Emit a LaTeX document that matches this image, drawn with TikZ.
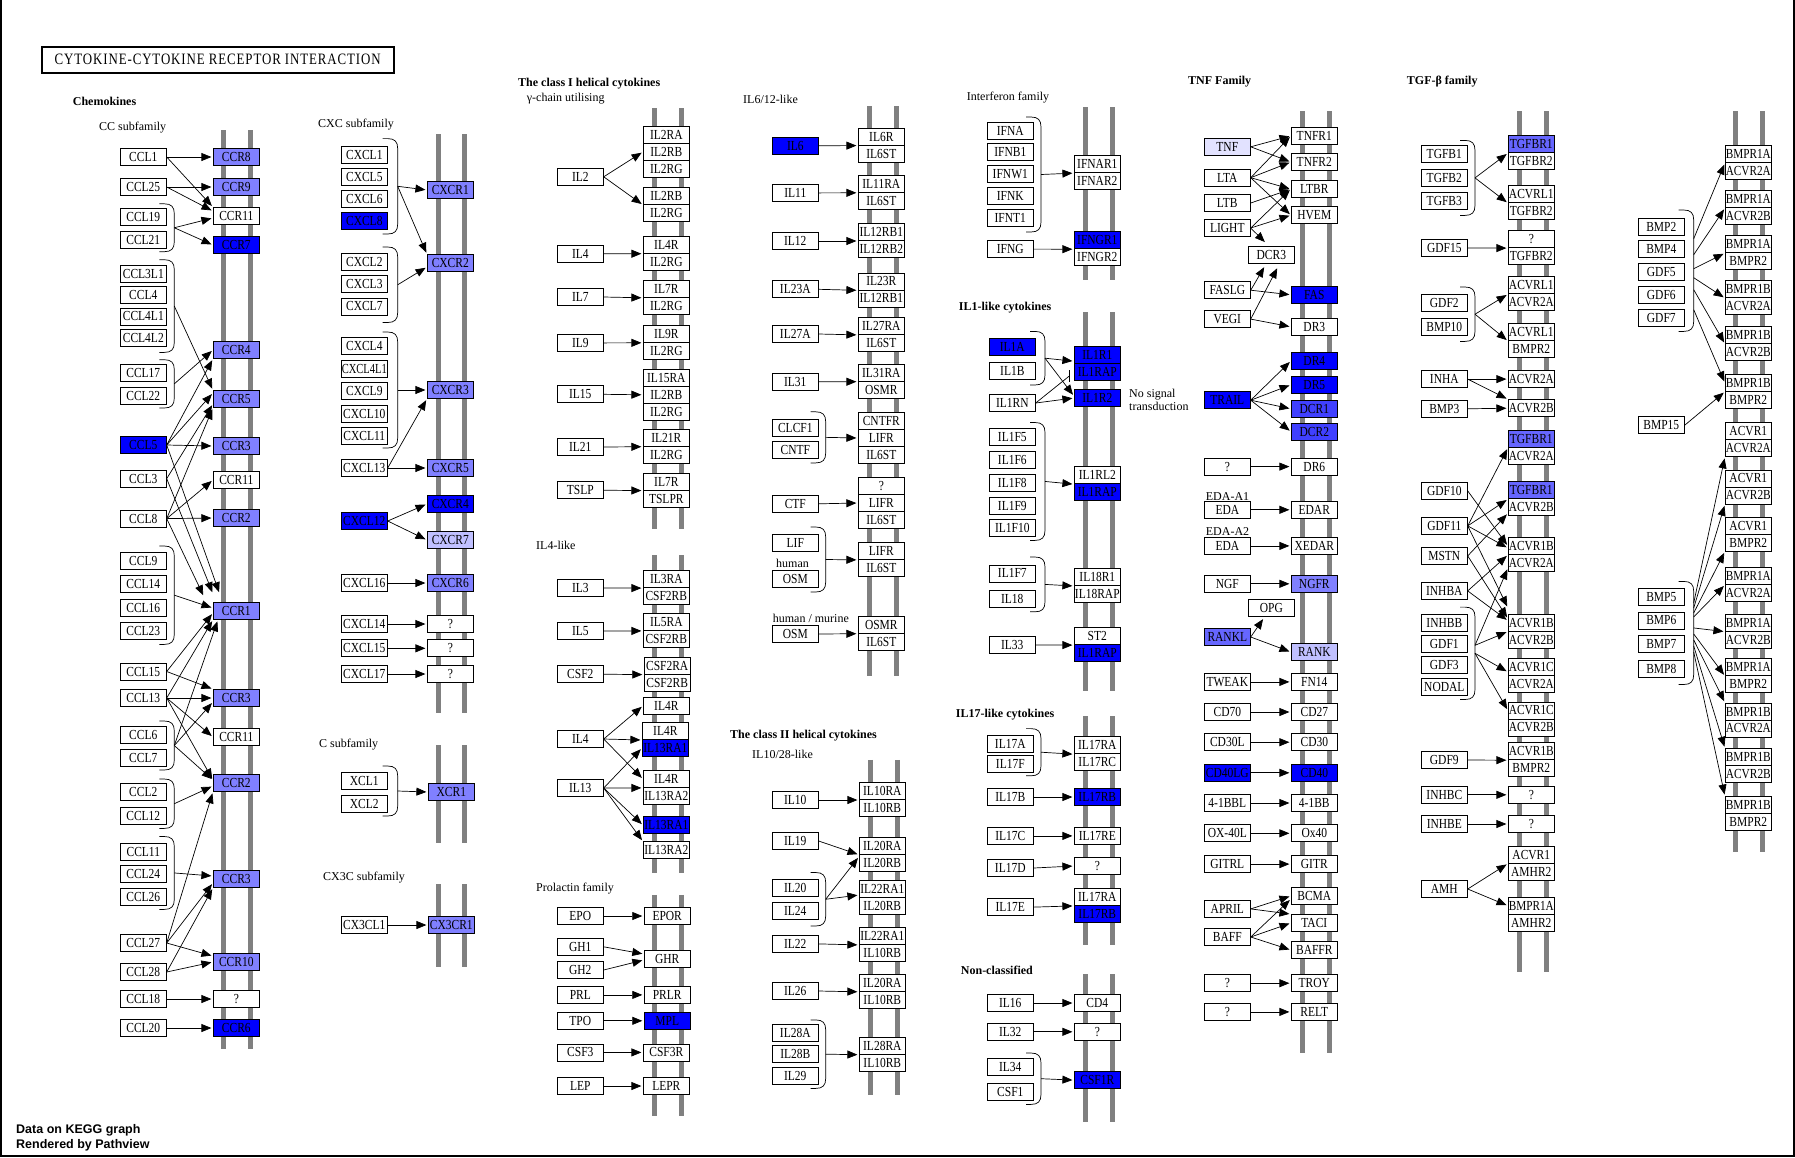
\documentclass[tikz,border=0pt]{standalone}
\usepackage{fontspec}
\usepackage{graphicx}
\setmainfont{Liberation Serif}
\newfontfamily\sansb{Liberation Sans}
\newfontfamily\titlef[LetterSpace=7]{Liberation Serif}
\usetikzlibrary{arrows.meta}
\definecolor{kb}{RGB}{0,0,255}
\definecolor{km}{RGB}{128,128,255}
\definecolor{kl}{RGB}{192,192,255}
\definecolor{kv}{RGB}{226,226,255}
\definecolor{kd}{RGB}{64,64,255}
\definecolor{k6}{RGB}{102,102,255}
\newsavebox\fitbox
\newcommand\fitw[1]{\sbox\fitbox{#1}\ifdim\wd\fitbox>45pt\resizebox{45pt}{1.2\ht\fitbox}{\usebox\fitbox}\else\scalebox{1}[1.2]{\usebox\fitbox}\fi}
\tikzset{
 gb/.style={draw, line width=0.8pt, fill=white, minimum width=46pt, minimum height=17pt, inner sep=0pt, font=\fontsize{11.5}{12}\selectfont},
 hi/.style={fill=kb}, md/.style={fill=km}, lt/.style={fill=kl}, vl/.style={fill=kv}, dk/.style={fill=kd}, m6/.style={fill=k6},
 lab/.style={anchor=west, inner sep=0pt, font=\fontsize{12}{14}\selectfont},
 hd/.style={lab, font=\fontsize{12}{14}\selectfont\bfseries},
 arr/.style={line width=0.7pt, -{Triangle[length=10pt,width=8pt]}, shorten >=1.5pt},
 ln/.style={line width=0.7pt},
 memline/.style={line width=5pt, color=gray}
}
\newcommand\gn[4][]{\node[gb,#1] (#2) at (#3) {\fitw{#4}};}
\newcommand\ed[2]{\draw[arr] (#1) -- (#2);}
\newcommand\memb[4]{\draw[memline] (#1,#3) -- (#1,#4); \draw[memline] (#2,#3) -- (#2,#4);}
\newcommand\brkt[4]{\draw[ln] (#2,#3) -- (#2+5,#3) .. controls (#2+12,#3) and (#2+15,#3+3) .. (#2+15,#3+10) -- (#2+15,#4-10) .. controls (#2+15,#4-3) and (#2+12,#4) .. (#2+5,#4) -- (#2,#4);
 \coordinate (#1) at (#2+15,{(#3+#4)/2});}
\begin{document}
\begin{tikzpicture}[x=1pt,y=-1pt]
\useasboundingbox (0,0) rectangle (1795,1157);
\draw[line width=2pt] (1,0) -- (1,1156) -- (1794,1156) -- (1794,0);
% membranes
\memb{223}{250}{130}{1049}
\memb{438}{464.7}{134}{713}
\memb{438}{464.7}{745}{842.6}
\memb{438}{464.7}{884}{966.6}
\memb{654}{681}{108}{528.6}
\memb{654}{681}{555}{872.8}
\memb{654}{681}{894.8}{1116}
\memb{869}{896}{106.4}{675.7}
\memb{870}{897}{759.9}{1094.5}
\memb{1085}{1112}{107}{280.4}
\memb{1085}{1112}{312}{690.6}
\memb{1085}{1112}{716}{944.6}
\memb{1085}{1112}{974}{1122}
\memb{1302}{1329}{111}{1053}
\memb{1519}{1546}{111}{972.3}
\memb{1735.7}{1762.7}{111}{852}
% title
\node[draw, line width=2pt, minimum width=352pt, minimum height=26pt, anchor=north west, inner sep=0pt] (title) at (40.7,45.6) {\resizebox{326pt}{10.5pt}{\titlef\fontsize{12}{14}\selectfont CYTOKINE-CYTOKINE RECEPTOR INTERACTION}};
% labels
\node[hd] (hChemo) at (72.7,101.6) {Chemokines};
\node[lab] (hCC) at (99,128) {CC subfamily};
\node[lab] (hCXC) at (318,125) {CXC subfamily};
\node[lab] (hC) at (319,745) {C subfamily};
\node[lab] (hCX3C) at (323,878) {CX3C subfamily};
\node[hd] (hCl1) at (518,83.6) {The class I helical cytokines};
\node[lab] (hgam) at (526.7,98.6) {γ-chain utilising};
\node[lab] (hIL4) at (536,545.7) {IL4-like};
\node[lab] (hPRL) at (536,888.5) {Prolactin family};
\node[lab] (hIL6) at (743,99.3) {IL6/12-like};
\node[lab] (hhum) at (776,563) {human};
\node[lab] (hhm) at (772.7,618.5) {human / murine};
\node[hd] (hCl2) at (730,735.7) {The class II helical cytokines};
\node[lab] (hIL10) at (752,754.5) {IL10/28-like};
\node[lab] (hIFN) at (966.7,97.5) {Interferon family};
\node[hd] (hIL1) at (958.7,307.9) {IL1-like cytokines};
\node[lab] (hNS1) at (1129,395) {No signal};
\node[lab] (hNS2) at (1129,406) {transduction};
\node[hd] (hIL17) at (955.7,714.7) {IL17-like cytokines};
\node[hd] (hNC) at (960.7,970.5) {Non-classified};
\node[hd] (hTNF) at (1188,81.4) {TNF Family};
\node[lab] (hEDA1) at (1205.7,496.4) {EDA-A1};
\node[lab] (hEDA2) at (1205.7,532) {EDA-A2};
\node[hd] (hTGF) at (1406.7,81.4) {TGF-β family};
\node[anchor=west, inner sep=0pt, font=\sansb\bfseries\fontsize{12.5}{14}\selectfont] (d1) at (16,1130) {Data on KEGG graph};
\node[anchor=west, inner sep=0pt, font=\sansb\bfseries\fontsize{12.5}{14}\selectfont] (d2) at (16,1145) {Rendered by Pathview};
% ===== CC subfamily
\gn{ccl1}{143.3,157}{CCL1}
\gn{ccl25}{143.3,187}{CCL25}
\gn{ccl19}{143.3,217}{CCL19}
\gn{ccl21}{143.3,240}{CCL21}
\gn{ccl3l1}{143.3,273.5}{CCL3L1}
\gn{ccl4}{143.3,294.6}{CCL4}
\gn{ccl4l1}{143.3,316.4}{CCL4L1}
\gn{ccl4l2}{143.3,338}{CCL4L2}
\gn{ccl17}{143.3,373}{CCL17}
\gn{ccl22}{143.3,396}{CCL22}
\gn[hi]{ccl5}{143.3,445}{CCL5}
\gn{ccl3}{143.3,478.6}{CCL3}
\gn{ccl8}{143.3,518.6}{CCL8}
\gn{ccl9}{143.3,561}{CCL9}
\gn{ccl14}{143.3,583.6}{CCL14}
\gn{ccl16}{143.3,607.8}{CCL16}
\gn{ccl23}{143.3,630.6}{CCL23}
\gn{ccl15}{143.3,671.5}{CCL15}
\gn{ccl13}{143.3,698}{CCL13}
\gn{ccl6}{143.3,735}{CCL6}
\gn{ccl7}{143.3,758}{CCL7}
\gn{ccl2}{143.3,792}{CCL2}
\gn{ccl12}{143.3,815.5}{CCL12}
\gn{ccl11}{143.3,852}{CCL11}
\gn{ccl24}{143.3,874}{CCL24}
\gn{ccl26}{143.3,896.5}{CCL26}
\gn{ccl27}{143.3,943}{CCL27}
\gn{ccl28}{143.3,972}{CCL28}
\gn{ccl18}{143.3,999}{CCL18}
\gn{ccl20}{143.3,1028}{CCL20}
\gn[md]{ccr8}{236.3,157}{CCR8}
\gn[md]{ccr9}{236.3,187}{CCR9}
\gn{ccr11a}{236.3,216}{CCR11}
\gn[hi]{ccr7}{236.3,245}{CCR7}
\gn[md]{ccr4}{236.3,350}{CCR4}
\gn[md]{ccr5}{236.3,399}{CCR5}
\gn[md]{ccr3a}{236.3,446}{CCR3}
\gn{ccr11b}{236.3,480}{CCR11}
\gn[md]{ccr2a}{236.3,518}{CCR2}
\gn[md]{ccr1}{236.3,611}{CCR1}
\gn[md]{ccr3b}{236.3,698}{CCR3}
\gn{ccr11c}{236.3,737}{CCR11}
\gn[md]{ccr2b}{236.3,783}{CCR2}
\gn[md]{ccr3c}{236.3,879}{CCR3}
\gn[md]{ccr10}{236.3,962}{CCR10}
\gn{ccq}{236.3,999}{?}
\gn[hi]{ccr6}{236.3,1028}{CCR6}
\brkt{bk1}{159.3}{203.8}{251.7}
\brkt{bk2}{159.3}{259.7}{352.4}
\brkt{bk3}{159.3}{359.7}{408}
\brkt{bk4}{159.3}{546}{644.4}
\brkt{bk5}{159.3}{721}{770}
\brkt{bk6}{159.3}{779}{828.4}
\brkt{bk7}{159.3}{836.5}{909.4}
\ed{ccl1.east}{ccr8.west}
\ed{ccl1.east}{ccr11a.north west}
\ed{ccl25.east}{ccr9.west}
\ed{ccl25.east}{[yshift=-4pt]ccr11a.north west}
\ed{bk1}{[yshift=-2pt]ccr11a.west}
\ed{bk1}{ccr7.west}
\ed{bk2}{ccr5.north west}
\ed{bk3}{ccr4.west}
\ed{ccl5.east}{ccr4.south west}
\ed{ccl5.east}{[yshift=6pt]ccr5.west}
\ed{ccl5.east}{ccr3a.west}
\ed{ccl5.east}{[xshift=6.7pt,yshift=8.5pt]ccr1.north west}
\ed{ccl3.east}{[yshift=-5pt]ccr5.west}
\ed{ccl3.east}{[yshift=8.5pt]ccr1.north west}
\ed{ccl8.east}{ccr5.south west}
\ed{ccl8.east}{ccr11b.west}
\ed{ccl8.east}{ccr2a.west}
\ed{ccl8.east}{[xshift=-9pt,yshift=5.5pt]ccr1.north west}
\ed{bk4}{[yshift=3pt]ccr1.west}
\ed{ccl15.east}{[yshift=-2pt]ccr1.west}
\ed{ccl15.east}{ccr3b.north west}
\ed{ccl13.east}{ccr1.south west}
\ed{ccl13.east}{ccr3b.west}
\ed{ccl13.east}{ccr11c.west}
\ed{ccl13.east}{[yshift=3pt]ccr2b.west}
\ed{bk5}{[xshift=5pt]ccr1.south west}
\ed{bk5}{[yshift=-4pt]ccr3b.west}
\ed{bk5}{[yshift=3pt]ccr2b.west}
\ed{bk6}{[yshift=-3pt]ccr2b.west}
\ed{ccl27.east}{ccr2b.south west}
\ed{bk7}{[yshift=3pt]ccr3c.west}
\ed{ccl27.east}{[yshift=-4pt]ccr3c.west}
\ed{ccl28.east}{ccr3c.south west}
\ed{ccl27.east}{[yshift=6pt]ccr10.west}
\ed{ccl28.east}{ccr10.west}
\ed{ccl18.east}{ccq.west}
\ed{ccl20.east}{ccr6.west}
% ===== CXC
\gn{cxcl1}{364.3,155.2}{CXCL1}
\gn{cxcl5}{364.3,177}{CXCL5}
\gn{cxcl6}{364.3,199}{CXCL6}
\gn[hi]{cxcl8}{364.3,220.7}{CXCL8}
\gn{cxcl2}{364.3,262}{CXCL2}
\gn{cxcl3}{364.3,284}{CXCL3}
\gn{cxcl7}{364.3,306.4}{CXCL7}
\gn{cxcl4}{364.3,346}{CXCL4}
\gn{cxcl4l1}{364.3,369}{CXCL4L1}
\gn{cxcl9}{364.3,391}{CXCL9}
\gn{cxcl10}{364.3,414}{CXCL10}
\gn{cxcl11}{364.3,436}{CXCL11}
\gn{cxcl13}{364.3,468}{CXCL13}
\gn[hi]{cxcl12}{364.3,521}{CXCL12}
\gn{cxcl16}{364.3,583}{CXCL16}
\gn{cxcl14}{364.3,624}{CXCL14}
\gn{cxcl15}{364.3,648.3}{CXCL15}
\gn{cxcl17}{364.3,674}{CXCL17}
\gn[md]{cxcr1}{450.3,190}{CXCR1}
\gn[md]{cxcr2}{450.3,263}{CXCR2}
\gn[md]{cxcr3}{450.3,390}{CXCR3}
\gn[md]{cxcr5}{450.3,468}{CXCR5}
\gn[hi]{cxcr4}{450.3,504}{CXCR4}
\gn[lt]{cxcr7}{450.3,540}{CXCR7}
\gn[md]{cxcr6}{450.3,583}{CXCR6}
\gn{cxq1}{450.3,624}{?}
\gn{cxq2}{450.3,648.3}{?}
\gn{cxq3}{450.3,674}{?}
\brkt{bkx1}{382.7}{138.6}{234}
\brkt{bkx2}{382.7}{247}{322.5}
\brkt{bkx3}{382.7}{332}{448}
\gn{xcl1}{364.3,781}{XCL1}
\gn{xcl2}{364.3,804}{XCL2}
\brkt{bkxc}{382.7}{766}{816}
\gn[md]{xcr1}{451.3,792}{XCR1}
\gn{cx3cl1}{364.3,925}{CX3CL1}
\gn[md]{cx3cr1}{451.3,925}{CX3CR1}
\ed{bkx1}{cxcr1.west}
\ed{bkx1}{cxcr2.north west}
\ed{bkx2}{[yshift=-4pt]cxcr2.west}
\ed{bkx3}{cxcr3.west}
\ed{cxcl13.east}{cxcr3.south west}
\ed{cxcl13.east}{cxcr5.west}
\ed{cxcl12.east}{cxcr4.west}
\ed{cxcl12.east}{cxcr7.west}
\ed{cxcl16.east}{cxcr6.west}
\ed{cxcl14.east}{cxq1.west}
\ed{cxcl15.east}{cxq2.west}
\ed{cxcl17.east}{cxq3.west}
\ed{bkxc}{xcr1.west}
\ed{cx3cl1.east}{cx3cr1.west}
% ===== class I
\gn{il2}{580.3,176.8}{IL2}
\gn{il4}{580.3,253.8}{IL4}
\gn{il7}{580.3,297}{IL7}
\gn{il9}{580.3,342.9}{IL9}
\gn{il15}{580.3,394.3}{IL15}
\gn{il21}{580.3,447}{IL21}
\gn{tslp}{580.3,490.2}{TSLP}
\gn{il2ra}{666.3,134.9}{IL2RA}
\gn{il2rb1}{666.3,151.9}{IL2RB}
\gn{il2rg1}{666.3,168.9}{IL2RG}
\gn{il2rb2}{666.3,196}{IL2RB}
\gn{il2rg2}{666.3,213}{IL2RG}
\gn{il4r1}{666.3,244.8}{IL4R}
\gn{il2rg3}{666.3,261.8}{IL2RG}
\gn{il7r1}{666.3,288.9}{IL7R}
\gn{il2rg4}{666.3,305.9}{IL2RG}
\gn{il9r}{666.3,333.9}{IL9R}
\gn{il2rg5}{666.3,350.9}{IL2RG}
\gn{il15ra}{666.3,377.8}{IL15RA}
\gn{il2rb3}{666.3,394.8}{IL2RB}
\gn{il2rg6}{666.3,411.8}{IL2RG}
\gn{il21r}{666.3,437.8}{IL21R}
\gn{il2rg7}{666.3,454.8}{IL2RG}
\gn{il7r2}{666.3,481.7}{IL7R}
\gn{tslpr}{666.3,498.7}{TSLPR}
\gn{il3}{580.3,588}{IL3}
\gn{il5}{580.3,631}{IL5}
\gn{csf2}{580.3,674.2}{CSF2}
\gn{il4b}{580.3,739}{IL4}
\gn{il13}{580.3,788}{IL13}
\gn{il3ra}{666.3,579.2}{IL3RA}
\gn{csf2rb1}{666.3,596.2}{CSF2RB}
\gn{il5ra}{666.3,622}{IL5RA}
\gn{csf2rb2}{666.3,639}{CSF2RB}
\gn{csf2ra}{667.2,665.7}{CSF2RA}
\gn{csf2rb3}{667.2,682.7}{CSF2RB}
\gn{il4rs}{666.3,705.8}{IL4R}
\gn{il4r2}{665.3,731.1}{IL4R}
\gn[hi]{il13ra1a}{665.3,748.1}{IL13RA1}
\gn{il4r3}{666.3,779}{IL4R}
\gn{il13ra2a}{666.3,796}{IL13RA2}
\gn[hi]{il13ra1b}{666.3,825.1}{IL13RA1}
\gn{il13ra2b}{666.3,850.3}{IL13RA2}
\gn{epo}{580.3,916}{EPO}
\gn{gh1}{580.3,946.8}{GH1}
\gn{gh2}{580.3,970}{GH2}
\gn{prl}{580.3,994.9}{PRL}
\gn{tpo}{580.3,1020.8}{TPO}
\gn{csf3}{580.3,1052.4}{CSF3}
\gn{lep}{580.3,1086}{LEP}
\gn{epor}{667.2,916}{EPOR}
\gn{ghr}{667.2,959}{GHR}
\gn{prlr}{667.2,994.9}{PRLR}
\gn[hi]{mpl}{667.2,1020.8}{MPL}
\gn{csf3r}{666.3,1052.4}{CSF3R}
\gn{lepr}{666.3,1086}{LEPR}
\ed{il2.east}{il2rb1.west}
\ed{il2.east}{il2rb2.south west}
\ed{il4.east}{il4r1.south west}
\ed{il7.east}{il7r1.south west}
\ed{il9.east}{il9r.south west}
\ed{il15.east}{il2rb3.west}
\ed{il21.east}{il21r.south west}
\ed{tslp.east}{il7r2.south west}
\ed{il3.east}{il3ra.south west}
\ed{il5.east}{il5ra.south west}
\ed{csf2.east}{csf2ra.south west}
\ed{il4b.east}{il4rs.west}
\ed{il4b.east}{il4r2.south west}
\ed{il4b.east}{il4r3.west}
\ed{il13.east}{il13ra1a.west}
\ed{il13.east}{il4r3.south west}
\ed{il13.east}{il13ra1b.west}
\ed{il13.east}{il13ra2b.north west}
\ed{epo.east}{epor.west}
\ed{gh1.east}{[yshift=5pt]ghr.west}
\ed{gh2.east}{[yshift=-1pt]ghr.west}
\ed{prl.east}{prlr.west}
\ed{tpo.east}{mpl.west}
\ed{csf3.east}{csf3r.west}
\ed{lep.east}{lepr.west}
% ===== IL6/12
\gn[hi]{il6}{795.3,145.7}{IL6}
\gn{il11}{795.3,192.9}{IL11}
\gn{il12}{795.3,241}{IL12}
\gn{il23a}{795.3,289.3}{IL23A}
\gn{il27a}{795.3,334}{IL27A}
\gn{il31}{795.3,381.8}{IL31}
\gn{clcf1}{795.3,428}{CLCF1}
\gn{cntf}{795.3,449.8}{CNTF}
\gn{ctf}{795.3,503.8}{CTF}
\gn{lif}{795.3,542.7}{LIF}
\gn{osm1}{795.3,579.1}{OSM}
\gn{osm2}{795.3,634}{OSM}
\gn{il6r}{881.3,136.7}{IL6R}
\gn{il6st1}{881.3,153.7}{IL6ST}
\gn{il11ra}{881.3,183.9}{IL11RA}
\gn{il6st2}{881.3,200.9}{IL6ST}
\gn{il12rb1a}{881.3,232.1}{IL12RB1}
\gn{il12rb2}{881.3,249.1}{IL12RB2}
\gn{il23r}{881.3,281.4}{IL23R}
\gn{il12rb1b}{881.3,298.4}{IL12RB1}
\gn{il27ra}{881.3,326}{IL27RA}
\gn{il6st3}{881.3,343}{IL6ST}
\gn{il31ra}{881.3,372.8}{IL31RA}
\gn{osmr1}{881.3,389.8}{OSMR}
\gn{cntfr}{881.3,421}{CNTFR}
\gn{lifr1}{881.3,438}{LIFR}
\gn{il6st4}{881.3,455}{IL6ST}
\gn{q6}{881.3,486}{?}
\gn{lifr2}{881.3,503}{LIFR}
\gn{il6st5}{881.3,520}{IL6ST}
\gn{lifr3}{881.3,551}{LIFR}
\gn{il6st6}{881.3,568}{IL6ST}
\gn{osmr2}{881.3,624.8}{OSMR}
\gn{il6st7}{881.3,641.8}{IL6ST}
\brkt{bk6a}{810.7}{411.8}{462.9}
\brkt{bk6b}{810.7}{527}{592}
\ed{il6.east}{il6r.south west}
\ed{il11.east}{il11ra.south west}
\ed{il12.east}{il12rb1a.south west}
\ed{il23a.east}{il23r.south west}
\ed{il27a.east}{il27ra.south west}
\ed{il31.east}{il31ra.south west}
\ed{bk6a}{lifr1.west}
\ed{ctf.east}{lifr2.west}
\ed{bk6b}{lifr3.south west}
\ed{osm2.east}{osmr2.south west}
% ===== class II
\gn{il10}{795.3,800}{IL10}
\gn{il19}{795.3,841}{IL19}
\gn{il20}{795.3,888}{IL20}
\gn{il24}{795.3,910.7}{IL24}
\gn{il22}{795.3,943.9}{IL22}
\gn{il26}{795.3,991}{IL26}
\gn{il28a}{795.3,1032.8}{IL28A}
\gn{il28b}{795.3,1054.3}{IL28B}
\gn{il29}{795.3,1075.5}{IL29}
\gn{il10ra}{882.3,791.1}{IL10RA}
\gn{il10rb1}{882.3,808.1}{IL10RB}
\gn{il20ra1}{882.3,845.8}{IL20RA}
\gn{il20rb1}{882.3,862.8}{IL20RB}
\gn{il22ra1a}{882.3,889.1}{IL22RA1}
\gn{il20rb2}{882.3,906.1}{IL20RB}
\gn{il22ra1b}{882.3,936}{IL22RA1}
\gn{il10rb2}{882.3,953}{IL10RB}
\gn{il20ra2}{882.3,982.9}{IL20RA}
\gn{il10rb3}{882.3,999.9}{IL10RB}
\gn{il28ra}{882.3,1045.8}{IL28RA}
\gn{il10rb4}{882.3,1062.8}{IL10RB}
\brkt{bk7a}{810.7}{872.5}{926}
\brkt{bk7b}{810.7}{1019.9}{1088.4}
\ed{il10.east}{il10ra.south west}
\ed{il19.east}{il20ra1.south west}
\ed{bk7a}{[yshift=-2pt]il20ra1.south west}
\ed{bk7a}{[yshift=3pt]il22ra1a.south west}
\ed{il22.east}{il22ra1b.south west}
\ed{il26.east}{il20ra2.south west}
\ed{bk7b}{il28ra.south west}
% ===== Interferon
\gn{ifna}{1010.3,131.1}{IFNA}
\gn{ifnb1}{1010.3,152.3}{IFNB1}
\gn{ifnw1}{1010.3,174.1}{IFNW1}
\gn{ifnk}{1010.3,195.9}{IFNK}
\gn{ifnt1}{1010.3,218}{IFNT1}
\gn{ifng}{1010.3,249.1}{IFNG}
\gn{ifnar1}{1097.3,164.2}{IFNAR1}
\gn{ifnar2}{1097.3,181.2}{IFNAR2}
\gn[hi]{ifngr1}{1097.3,240.3}{IFNGR1}
\gn{ifngr2}{1097.3,257.3}{IFNGR2}
\brkt{bkifn}{1026}{117}{232}
\ed{bkifn}{ifnar1.south west}
\ed{ifng.east}{ifngr1.south west}
% ===== IL1
\gn[hi]{il1a}{1012.3,347}{IL1A}
\gn{il1b}{1012.3,371.2}{IL1B}
\gn{il1rn}{1012.3,403}{IL1RN}
\gn{il1f5}{1012.3,437.3}{IL1F5}
\gn{il1f6}{1012.3,460.2}{IL1F6}
\gn{il1f8}{1012.3,483}{IL1F8}
\gn{il1f9}{1012.3,506.2}{IL1F9}
\gn{il1f10}{1012.3,527.7}{IL1F10}
\gn{il1f7}{1012.3,573.4}{IL1F7}
\gn{il18}{1012.3,598.9}{IL18}
\gn{il33}{1012.3,645}{IL33}
\gn[hi]{il1r1}{1097.3,355.3}{IL1R1}
\gn[hi]{il1rap1}{1097.3,372.3}{IL1RAP}
\gn[hi]{il1r2}{1097.3,398}{IL1R2}
\gn{il1rl2}{1097.3,475.3}{IL1RL2}
\gn[hi]{il1rap2}{1097.3,492.3}{IL1RAP}
\gn{il18r1}{1097.3,577.1}{IL18R1}
\gn{il18rap}{1097.3,594.1}{IL18RAP}
\gn{st2}{1097.3,636.2}{ST2}
\gn[hi]{il1rap3}{1097.3,653.2}{IL1RAP}
\brkt{bkil1}{1030}{331.4}{385}
\brkt{bkil1f}{1030}{422.5}{540.4}
\brkt{bkil18}{1030}{557}{611.8}
\ed{bkil1}{[yshift=3pt]il1r1.south west}
\ed{bkil1}{[yshift=2pt]il1r2.west}
\ed{il1rn.east}{il1r2.west}
\coordinate (inhpt) at ([xshift=-5pt,yshift=-4pt]il1rap1.west);
\draw[ln] (il1rn.east) -- (inhpt);
\draw[ln] ([yshift=6pt]inhpt) -- ([yshift=-6pt]inhpt);
\ed{bkil1f}{il1rl2.south west}
\ed{bkil18}{il18r1.south west}
\ed{il33.east}{st2.south west}
% ===== IL17
\gn{il17a}{1010.3,743.7}{IL17A}
\gn{il17f}{1010.3,764.3}{IL17F}
\gn{il17b}{1010.3,797}{IL17B}
\gn{il17c}{1010.3,835.9}{IL17C}
\gn{il17d}{1010.3,868}{IL17D}
\gn{il17e}{1010.3,907.1}{IL17E}
\gn{il17ra1}{1097.3,745.3}{IL17RA}
\gn{il17rc}{1097.3,762.3}{IL17RC}
\gn[hi]{il17rb1}{1097.3,797}{IL17RB}
\gn{il17re}{1097.3,835.9}{IL17RE}
\gn{q17}{1097.3,866}{?}
\gn{il17ra2}{1097.3,897}{IL17RA}
\gn[hi]{il17rb2}{1097.3,914}{IL17RB}
\brkt{bk17}{1026}{728.6}{775.8}
\ed{bk17}{il17ra1.south west}
\ed{il17b.east}{il17rb1.west}
\ed{il17c.east}{il17re.west}
\ed{il17d.east}{q17.west}
\ed{il17e.east}{il17ra2.south west}
% ===== Non-classified
\gn{il16}{1010.3,1003}{IL16}
\gn{il32}{1010.3,1031.8}{IL32}
\gn{il34}{1010.3,1066.8}{IL34}
\gn{csf1}{1010.3,1091.9}{CSF1}
\gn{cd4}{1097.3,1003}{CD4}
\gn{qnc}{1097.3,1031.8}{?}
\gn[hi]{csf1r}{1097.3,1080.1}{CSF1R}
\brkt{bknc}{1026}{1053}{1104.4}
\ed{il16.east}{cd4.west}
\ed{il32.east}{qnc.west}
\ed{bknc}{csf1r.west}
% ===== TNF
\gn[vl]{tnf}{1227.3,146.8}{TNF}
\gn{lta}{1227.3,177.7}{LTA}
\gn{ltb}{1227.3,203}{LTB}
\gn{light}{1227.3,228}{LIGHT}
\gn{faslg}{1227.3,290.2}{FASLG}
\gn{vegi}{1227.3,319.1}{VEGI}
\gn[hi]{trail}{1227.3,400.2}{TRAIL}
\gn{tq1}{1227.3,466.6}{?}
\gn{eda1}{1227.3,509.8}{EDA}
\gn{eda2}{1227.3,545.9}{EDA}
\gn{ngf}{1227.3,583.8}{NGF}
\gn[m6]{rankl}{1227.3,637}{RANKL}
\gn{tweak}{1227.3,681.9}{TWEAK}
\gn{cd70}{1227.3,712}{CD70}
\gn{cd30l}{1227.3,742.2}{CD30L}
\gn[hi]{cd40lg}{1227.3,772.8}{CD40LG}
\gn{bbl}{1227.3,803}{4-1BBL}
\gn{ox40l}{1227.3,833.3}{OX-40L}
\gn{gitrl}{1227.3,864.1}{GITRL}
\gn{april}{1227.3,908.9}{APRIL}
\gn{baff}{1227.3,937}{BAFF}
\gn{tq2}{1227.3,983.2}{?}
\gn{tq3}{1227.3,1011.9}{?}
\gn{tnfr1}{1314.3,135.9}{TNFR1}
\gn{tnfr2}{1314.3,162}{TNFR2}
\gn{ltbr}{1314.3,189.1}{LTBR}
\gn{hvem}{1314.3,215.2}{HVEM}
\gn{dcr3}{1271.3,255}{DCR3}
\gn[hi]{fas}{1314.3,294.8}{FAS}
\gn{dr3}{1314.3,326.8}{DR3}
\gn[hi]{dr4}{1314.3,360.9}{DR4}
\gn[hi]{dr5}{1314.3,384.8}{DR5}
\gn[dk]{dcr1}{1314.3,408.8}{DCR1}
\gn[dk]{dcr2}{1314.3,431.6}{DCR2}
\gn{dr6}{1314.3,466.6}{DR6}
\gn{edar}{1314.3,509.8}{EDAR}
\gn{xedar}{1314.3,545.9}{XEDAR}
\gn[md]{ngfr}{1314.3,583.8}{NGFR}
\gn{opg}{1271.3,608}{OPG}
\gn[lt]{rank}{1314.3,652}{RANK}
\gn{fn14}{1314.3,681.9}{FN14}
\gn{cd27}{1314.3,712}{CD27}
\gn{cd30}{1314.3,742.2}{CD30}
\gn[hi]{cd40}{1314.3,772.8}{CD40}
\gn{bb}{1314.3,803}{4-1BB}
\gn{ox40}{1314.3,833.3}{Ox40}
\gn{gitr}{1314.3,864.1}{GITR}
\gn{bcma}{1314.3,896}{BCMA}
\gn{taci}{1314.3,923}{TACI}
\gn{baffr}{1314.3,950}{BAFFR}
\gn{troy}{1314.3,983.2}{TROY}
\gn{relt}{1314.3,1011.9}{RELT}
\ed{tnf.east}{tnfr1.west}
\ed{tnf.east}{tnfr2.west}
\ed{lta.east}{tnfr1.west}
\ed{lta.east}{tnfr2.west}
\ed{lta.east}{ltbr.west}
\ed{lta.east}{hvem.west}
\ed{ltb.east}{ltbr.west}
\ed{light.east}{ltbr.west}
\ed{light.east}{hvem.west}
\ed{light.east}{[xshift=18pt,yshift=3pt]dcr3.north west}
\ed{faslg.east}{[xshift=17pt,yshift=-2pt]dcr3.south west}
\ed{faslg.east}{fas.west}
\ed{vegi.east}{[xshift=30pt,yshift=-3pt]dcr3.south west}
\ed{vegi.east}{dr3.west}
\ed{trail.east}{dr4.west}
\ed{trail.east}{dr5.west}
\ed{trail.east}{dcr1.west}
\ed{trail.east}{dcr2.west}
\ed{tq1.east}{dr6.west}
\ed{eda1.east}{edar.west}
\ed{eda2.east}{xedar.west}
\ed{ngf.east}{ngfr.west}
\ed{rankl.east}{[xshift=16pt,yshift=-1pt]opg.south west}
\ed{rankl.east}{rank.west}
\ed{tweak.east}{fn14.west}
\ed{cd70.east}{cd27.west}
\ed{cd30l.east}{cd30.west}
\ed{cd40lg.east}{cd40.west}
\ed{bbl.east}{bb.west}
\ed{ox40l.east}{ox40.west}
\ed{gitrl.east}{gitr.west}
\ed{april.east}{bcma.west}
\ed{april.east}{taci.north west}
\ed{baff.east}{[yshift=-3pt]bcma.west}
\ed{baff.east}{taci.west}
\ed{baff.east}{baffr.west}
\ed{tq2.east}{troy.west}
\ed{tq3.east}{relt.west}
% ===== TGF-beta
\gn{tgfb1}{1444.3,154.1}{TGFB1}
\gn{tgfb2}{1444.3,178}{TGFB2}
\gn{tgfb3}{1444.3,200.9}{TGFB3}
\gn{gdf15}{1444.3,248}{GDF15}
\gn{gdf2}{1444.3,303}{GDF2}
\gn{bmp10}{1444.3,327}{BMP10}
\gn{inha}{1444.3,379.1}{INHA}
\gn{bmp3}{1444.3,408.8}{BMP3}
\gn{gdf10}{1444.3,490.9}{GDF10}
\gn{gdf11}{1444.3,525.9}{GDF11}
\gn{mstn}{1444.3,555.9}{MSTN}
\gn{inhba}{1444.3,590.9}{INHBA}
\gn{inhbb}{1444.3,622.6}{INHBB}
\gn{gdf1}{1444.3,643.9}{GDF1}
\gn{gdf3}{1444.3,665.2}{GDF3}
\gn{nodal}{1444.3,686.5}{NODAL}
\gn{gdf9}{1444.3,760}{GDF9}
\gn{inhbc}{1444.3,794.8}{INHBC}
\gn{inhbe}{1444.3,824}{INHBE}
\gn{amh}{1444.3,889}{AMH}
\gn[m6]{s1a}{1531.3,144.2}{TGFBR1}
\gn{s1b}{1531.3,161.2}{TGFBR2}
\gn{s2a}{1531.3,194.2}{ACVRL1}
\gn{s2b}{1531.3,211.2}{TGFBR2}
\gn{s3a}{1531.3,239.2}{?}
\gn{s3b}{1531.3,256.2}{TGFBR2}
\gn{s4a}{1531.3,285.3}{ACVRL1}
\gn{s4b}{1531.3,302.3}{ACVR2A}
\gn{s5a}{1531.3,332.1}{ACVRL1}
\gn{s5b}{1531.3,349.1}{BMPR2}
\gn{s6}{1531.3,379.1}{ACVR2A}
\gn{s7}{1531.3,408.2}{ACVR2B}
\gn[m6]{s8a}{1531.3,438.9}{TGFBR1}
\gn{s8b}{1531.3,455.9}{ACVR2A}
\gn[m6]{s9a}{1531.3,490.3}{TGFBR1}
\gn{s9b}{1531.3,507.3}{ACVR2B}
\gn{s10a}{1531.3,546}{ACVR1B}
\gn{s10b}{1531.3,563}{ACVR2A}
\gn{s11a}{1531.3,622.7}{ACVR1B}
\gn{s11b}{1531.3,639.7}{ACVR2B}
\gn{s12a}{1531.3,667.1}{ACVR1C}
\gn{s12b}{1531.3,684.1}{ACVR2A}
\gn{s13a}{1531.3,710.5}{ACVR1C}
\gn{s13b}{1531.3,727.5}{ACVR2B}
\gn{s14a}{1531.3,751.3}{ACVR1B}
\gn{s14b}{1531.3,768.3}{BMPR2}
\gn{s15}{1531.3,794.8}{?}
\gn{s16}{1531.3,824}{?}
\gn{s17a}{1531.3,854.7}{ACVR1}
\gn{s17b}{1531.3,871.7}{AMHR2}
\gn{s18a}{1531.3,905.8}{BMPR1A}
\gn{s18b}{1531.3,922.8}{AMHR2}
\brkt{bkt1}{1460}{140.4}{215.4}
\brkt{bkt2}{1460}{287}{341.4}
\brkt{bkt3}{1460}{607.1}{699.5}
\ed{bkt1}{s1a.south west}
\ed{bkt1}{s2a.south west}
\ed{gdf15.east}{s3a.south west}
\ed{bkt2}{s4a.south west}
\ed{bkt2}{s5a.south west}
\ed{inha.east}{s6.west}
\ed{inha.east}{s7.north west}
\ed{bmp3.east}{s7.west}
\ed{gdf10.east}{s10a.west}
\ed{gdf11.east}{s8a.south west}
\ed{gdf11.east}{s9a.south west}
\ed{gdf11.east}{[yshift=-2pt]s10a.west}
\ed{gdf11.east}{[yshift=6pt]s11a.north west}
\ed{mstn.east}{[yshift=-6pt]s9b.west}
\ed{mstn.east}{[yshift=4pt]s11a.west}
\ed{inhba.east}{s10a.south west}
\ed{inhba.east}{[yshift=2pt]s11a.west}
\ed{[yshift=8pt]bkt3}{[yshift=-5pt]s10b.west}
\ed{[yshift=8pt]bkt3}{s11a.south west}
\ed{bkt3}{[yshift=4pt]s12a.south west}
\ed{bkt3}{s13a.west}
\ed{gdf9.east}{s14a.south west}
\ed{inhbc.east}{s15.west}
\ed{inhbe.east}{s16.west}
\ed{amh.east}{s17a.south west}
\ed{amh.east}{s18a.west}
% ===== BMP
\gn{bmp2}{1661.3,227}{BMP2}
\gn{bmp4}{1661.3,249.1}{BMP4}
\gn{gdf5}{1661.3,272}{GDF5}
\gn{gdf6}{1661.3,295.2}{GDF6}
\gn{gdf7}{1661.3,318}{GDF7}
\gn{bmp15}{1661.3,425.2}{BMP15}
\gn{bmp5}{1661.3,597.3}{BMP5}
\gn{bmp6}{1661.3,620.4}{BMP6}
\gn{bmp7}{1661.3,643.9}{BMP7}
\gn{bmp8}{1661.3,669.1}{BMP8}
\gn{b1a}{1748.3,154.2}{BMPR1A}
\gn{b1b}{1748.3,171.2}{ACVR2A}
\gn{b2a}{1748.3,199.2}{BMPR1A}
\gn{b2b}{1748.3,216.2}{ACVR2B}
\gn{b3a}{1748.3,244.2}{BMPR1A}
\gn{b3b}{1748.3,261.2}{BMPR2}
\gn{b4a}{1748.3,289.2}{BMPR1B}
\gn{b4b}{1748.3,306.2}{ACVR2A}
\gn{b5a}{1748.3,334.9}{BMPR1B}
\gn{b5b}{1748.3,351.9}{ACVR2B}
\gn{b6a}{1748.3,382.8}{BMPR1B}
\gn{b6b}{1748.3,399.8}{BMPR2}
\gn{b7a}{1748.3,431}{ACVR1}
\gn{b7b}{1748.3,448}{ACVR2A}
\gn{b8a}{1748.3,478.5}{ACVR1}
\gn{b8b}{1748.3,495.5}{ACVR2B}
\gn{b9a}{1748.3,525.6}{ACVR1}
\gn{b9b}{1748.3,542.6}{BMPR2}
\gn{b10a}{1748.3,576}{BMPR1A}
\gn{b10b}{1748.3,593}{ACVR2A}
\gn{b11a}{1748.3,622.7}{BMPR1A}
\gn{b11b}{1748.3,639.7}{ACVR2B}
\gn{b12a}{1748.3,667.1}{BMPR1A}
\gn{b12b}{1748.3,684.1}{BMPR2}
\gn{b13a}{1748.3,711.5}{BMPR1B}
\gn{b13b}{1748.3,728.5}{ACVR2A}
\gn{b14a}{1748.3,757}{BMPR1B}
\gn{b14b}{1748.3,774}{ACVR2B}
\gn{b15a}{1748.3,804.9}{BMPR1B}
\gn{b15b}{1748.3,821.9}{BMPR2}
\brkt{bkb1}{1678.7}{210}{331.4}
\brkt{bkb2}{1678.7}{581.4}{684.5}
\ed{[yshift=32pt]bkb1}{b1a.south west}
\ed{[yshift=16pt]bkb1}{b2a.south west}
\ed{[yshift=2pt]bkb1}{b3a.south west}
\ed{[yshift=-7pt]bkb1}{b4a.south west}
\ed{[yshift=-19pt]bkb1}{b5a.south west}
\ed{[yshift=-39pt]bkb1}{b6a.west}
\ed{bmp15.east}{b6a.south west}
\ed{[yshift=30pt]bkb2}{b7b.south west}
\ed{[yshift=25pt]bkb2}{b8b.south west}
\ed{[yshift=20pt]bkb2}{b9b.south west}
\ed{[yshift=16pt]bkb2}{b10a.south west}
\ed{[yshift=5pt]bkb2}{b11a.south west}
\ed{[yshift=-1pt]bkb2}{b12a.south west}
\ed{[yshift=-7pt]bkb2}{b13a.north west}
\ed{[yshift=-13pt]bkb2}{b14a.north west}
\ed{[yshift=-19pt]bkb2}{b15a.north west}
\end{tikzpicture}
\end{document}
